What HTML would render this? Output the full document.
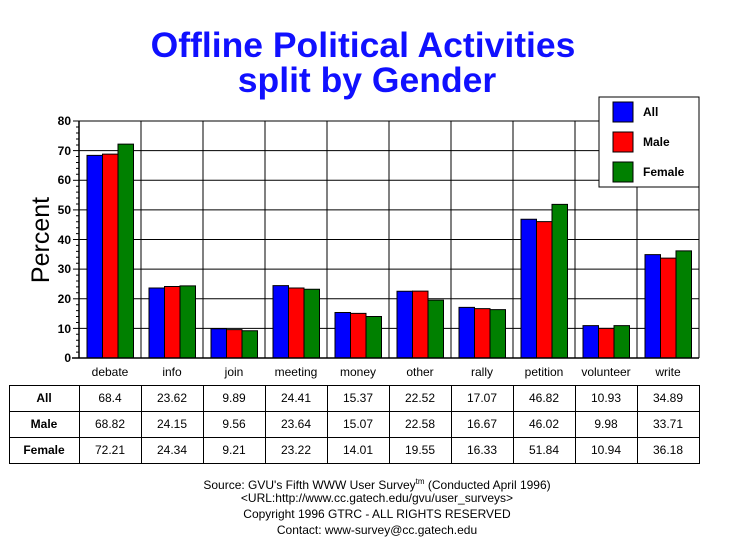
<!DOCTYPE html>
<html><head><meta charset="utf-8"><style>body{margin:0;background:#fff}svg{display:block}text{font-family:"Liberation Sans",Arial,sans-serif}</style></head><body>
<svg width="729" height="553" viewBox="0 0 729 553" xmlns="http://www.w3.org/2000/svg">
<rect width="729" height="553" fill="#fff"/>
<text x="363" y="57" font-size="35.5" font-weight="bold" fill="#1010ff" text-anchor="middle">Offline Political Activities</text>
<text x="367" y="92" font-size="35.5" font-weight="bold" fill="#1010ff" text-anchor="middle">split by Gender</text>
<text transform="translate(49,240) rotate(-90)" font-size="25" text-anchor="middle">Percent</text>
<g stroke="#000" stroke-width="1">
<line x1="79" y1="328.4" x2="699" y2="328.4"/><line x1="79" y1="298.8" x2="699" y2="298.8"/><line x1="79" y1="269.1" x2="699" y2="269.1"/><line x1="79" y1="239.5" x2="699" y2="239.5"/><line x1="79" y1="209.9" x2="699" y2="209.9"/><line x1="79" y1="180.3" x2="699" y2="180.3"/><line x1="79" y1="150.6" x2="699" y2="150.6"/><line x1="79" y1="121" x2="699" y2="121"/>
<line x1="141" y1="121" x2="141" y2="358"/><line x1="203" y1="121" x2="203" y2="358"/><line x1="265" y1="121" x2="265" y2="358"/><line x1="327" y1="121" x2="327" y2="358"/><line x1="389" y1="121" x2="389" y2="358"/><line x1="451" y1="121" x2="451" y2="358"/><line x1="513" y1="121" x2="513" y2="358"/><line x1="575" y1="121" x2="575" y2="358"/><line x1="637" y1="121" x2="637" y2="358"/><line x1="699" y1="121" x2="699" y2="358"/>
</g>
<g transform="translate(0,358) scale(1,-2.9625)" stroke="#000" stroke-width="1">
<g fill="#0000ff">
<rect vector-effect="non-scaling-stroke" x="87" y="0" width="15.5" height="68.4"/>
<rect vector-effect="non-scaling-stroke" x="149" y="0" width="15.5" height="23.62"/>
<rect vector-effect="non-scaling-stroke" x="211" y="0" width="15.5" height="9.89"/>
<rect vector-effect="non-scaling-stroke" x="273" y="0" width="15.5" height="24.41"/>
<rect vector-effect="non-scaling-stroke" x="335" y="0" width="15.5" height="15.37"/>
<rect vector-effect="non-scaling-stroke" x="397" y="0" width="15.5" height="22.52"/>
<rect vector-effect="non-scaling-stroke" x="459" y="0" width="15.5" height="17.07"/>
<rect vector-effect="non-scaling-stroke" x="521" y="0" width="15.5" height="46.82"/>
<rect vector-effect="non-scaling-stroke" x="583" y="0" width="15.5" height="10.93"/>
<rect vector-effect="non-scaling-stroke" x="645" y="0" width="15.5" height="34.89"/>
</g>
<g fill="#ff0000">
<rect vector-effect="non-scaling-stroke" x="102.5" y="0" width="15.5" height="68.82"/>
<rect vector-effect="non-scaling-stroke" x="164.5" y="0" width="15.5" height="24.15"/>
<rect vector-effect="non-scaling-stroke" x="226.5" y="0" width="15.5" height="9.56"/>
<rect vector-effect="non-scaling-stroke" x="288.5" y="0" width="15.5" height="23.64"/>
<rect vector-effect="non-scaling-stroke" x="350.5" y="0" width="15.5" height="15.07"/>
<rect vector-effect="non-scaling-stroke" x="412.5" y="0" width="15.5" height="22.58"/>
<rect vector-effect="non-scaling-stroke" x="474.5" y="0" width="15.5" height="16.67"/>
<rect vector-effect="non-scaling-stroke" x="536.5" y="0" width="15.5" height="46.02"/>
<rect vector-effect="non-scaling-stroke" x="598.5" y="0" width="15.5" height="9.98"/>
<rect vector-effect="non-scaling-stroke" x="660.5" y="0" width="15.5" height="33.71"/>
</g>
<g fill="#008000">
<rect vector-effect="non-scaling-stroke" x="118" y="0" width="15.5" height="72.21"/>
<rect vector-effect="non-scaling-stroke" x="180" y="0" width="15.5" height="24.34"/>
<rect vector-effect="non-scaling-stroke" x="242" y="0" width="15.5" height="9.21"/>
<rect vector-effect="non-scaling-stroke" x="304" y="0" width="15.5" height="23.22"/>
<rect vector-effect="non-scaling-stroke" x="366" y="0" width="15.5" height="14.01"/>
<rect vector-effect="non-scaling-stroke" x="428" y="0" width="15.5" height="19.55"/>
<rect vector-effect="non-scaling-stroke" x="490" y="0" width="15.5" height="16.33"/>
<rect vector-effect="non-scaling-stroke" x="552" y="0" width="15.5" height="51.84"/>
<rect vector-effect="non-scaling-stroke" x="614" y="0" width="15.5" height="10.94"/>
<rect vector-effect="non-scaling-stroke" x="676" y="0" width="15.5" height="36.18"/>
</g>
</g>
<g stroke="#000" stroke-width="1.5">
<line x1="79" y1="121" x2="79" y2="358"/><line x1="72" y1="358" x2="699" y2="358"/>
</g>
<g stroke="#000" stroke-width="1">
<line x1="73" y1="121" x2="79" y2="121"/><line x1="73" y1="150.6" x2="79" y2="150.6"/><line x1="73" y1="180.3" x2="79" y2="180.3"/><line x1="73" y1="209.9" x2="79" y2="209.9"/><line x1="73" y1="239.5" x2="79" y2="239.5"/><line x1="73" y1="269.1" x2="79" y2="269.1"/><line x1="73" y1="298.8" x2="79" y2="298.8"/><line x1="73" y1="328.4" x2="79" y2="328.4"/>
<path d="M76 127H79M76 133H79M76 139H79M76 145H79M76 156.5H79M76 162.5H79M76 168.4H79M76 174.3H79M76 186.2H79M76 192.1H79M76 198H79M76 204H79M76 215.8H79M76 221.7H79M76 227.7H79M76 233.6H79M76 245.4H79M76 251.4H79M76 257.3H79M76 263.2H79M76 275.1H79M76 281H79M76 286.9H79M76 292.8H79M76 304.7H79M76 310.6H79M76 316.5H79M76 322.5H79M76 334.3H79M76 340.2H79M76 346.2H79M76 352.1H79"/>
</g>
<g font-size="12" font-weight="bold" text-anchor="end">
<text x="71" y="125">80</text><text x="71" y="155">70</text><text x="71" y="184">60</text><text x="71" y="214">50</text><text x="71" y="244">40</text><text x="71" y="273">30</text><text x="71" y="303">20</text><text x="71" y="333">10</text><text x="71" y="362">0</text>
</g>
<g font-size="12" text-anchor="middle">
<text x="110" y="376">debate</text><text x="172" y="376">info</text><text x="234" y="376">join</text><text x="296" y="376">meeting</text><text x="358" y="376">money</text><text x="420" y="376">other</text><text x="482" y="376">rally</text><text x="544" y="376">petition</text><text x="606" y="376">volunteer</text><text x="668" y="376">write</text>
</g>
<rect x="599" y="97" width="100" height="90" fill="#fff" stroke="#000"/>
<rect x="613" y="102" width="20" height="20" fill="#0000ff" stroke="#000"/>
<rect x="613" y="132" width="20" height="20" fill="#ff0000" stroke="#000"/>
<rect x="613" y="162" width="20" height="20" fill="#008000" stroke="#000"/>
<g font-size="12" font-weight="bold"><text x="643" y="116">All</text><text x="643" y="146">Male</text><text x="643" y="176">Female</text></g>
<g stroke="#000" stroke-width="1" fill="none">
<rect x="9.5" y="385.5" width="690" height="78"/>
<line x1="9.5" y1="411.5" x2="699.5" y2="411.5"/><line x1="9.5" y1="437.5" x2="699.5" y2="437.5"/>
<path d="M79.5 385V464M141.5 385V464M203.5 385V464M265.5 385V464M327.5 385V464M389.5 385V464M451.5 385V464M513.5 385V464M575.5 385V464M637.5 385V464"/>
</g>
<g font-size="12" text-anchor="middle">
<g font-weight="bold"><text x="44" y="402">All</text><text x="44" y="428">Male</text><text x="44" y="454">Female</text></g>
<text x="110" y="402">68.4</text><text x="172" y="402">23.62</text><text x="234" y="402">9.89</text><text x="296" y="402">24.41</text><text x="358" y="402">15.37</text><text x="420" y="402">22.52</text><text x="482" y="402">17.07</text><text x="544" y="402">46.82</text><text x="606" y="402">10.93</text><text x="668" y="402">34.89</text>
<text x="110" y="428">68.82</text><text x="172" y="428">24.15</text><text x="234" y="428">9.56</text><text x="296" y="428">23.64</text><text x="358" y="428">15.07</text><text x="420" y="428">22.58</text><text x="482" y="428">16.67</text><text x="544" y="428">46.02</text><text x="606" y="428">9.98</text><text x="668" y="428">33.71</text>
<text x="110" y="454">72.21</text><text x="172" y="454">24.34</text><text x="234" y="454">9.21</text><text x="296" y="454">23.22</text><text x="358" y="454">14.01</text><text x="420" y="454">19.55</text><text x="482" y="454">16.33</text><text x="544" y="454">51.84</text><text x="606" y="454">10.94</text><text x="668" y="454">36.18</text>
</g>
<g font-size="12" text-anchor="middle">
<text x="377" y="489">Source: GVU's Fifth WWW User Survey<tspan font-size="8" dy="-5">tm</tspan><tspan dy="5">  (Conducted April 1996)</tspan></text>
<text x="377" y="502">&lt;URL:http://www.cc.gatech.edu/gvu/user_surveys&gt;</text>
<text x="377" y="518">Copyright 1996 GTRC -  ALL RIGHTS RESERVED</text>
<text x="377" y="534">Contact: www-survey@cc.gatech.edu</text>
</g>
</svg>
</body></html>
